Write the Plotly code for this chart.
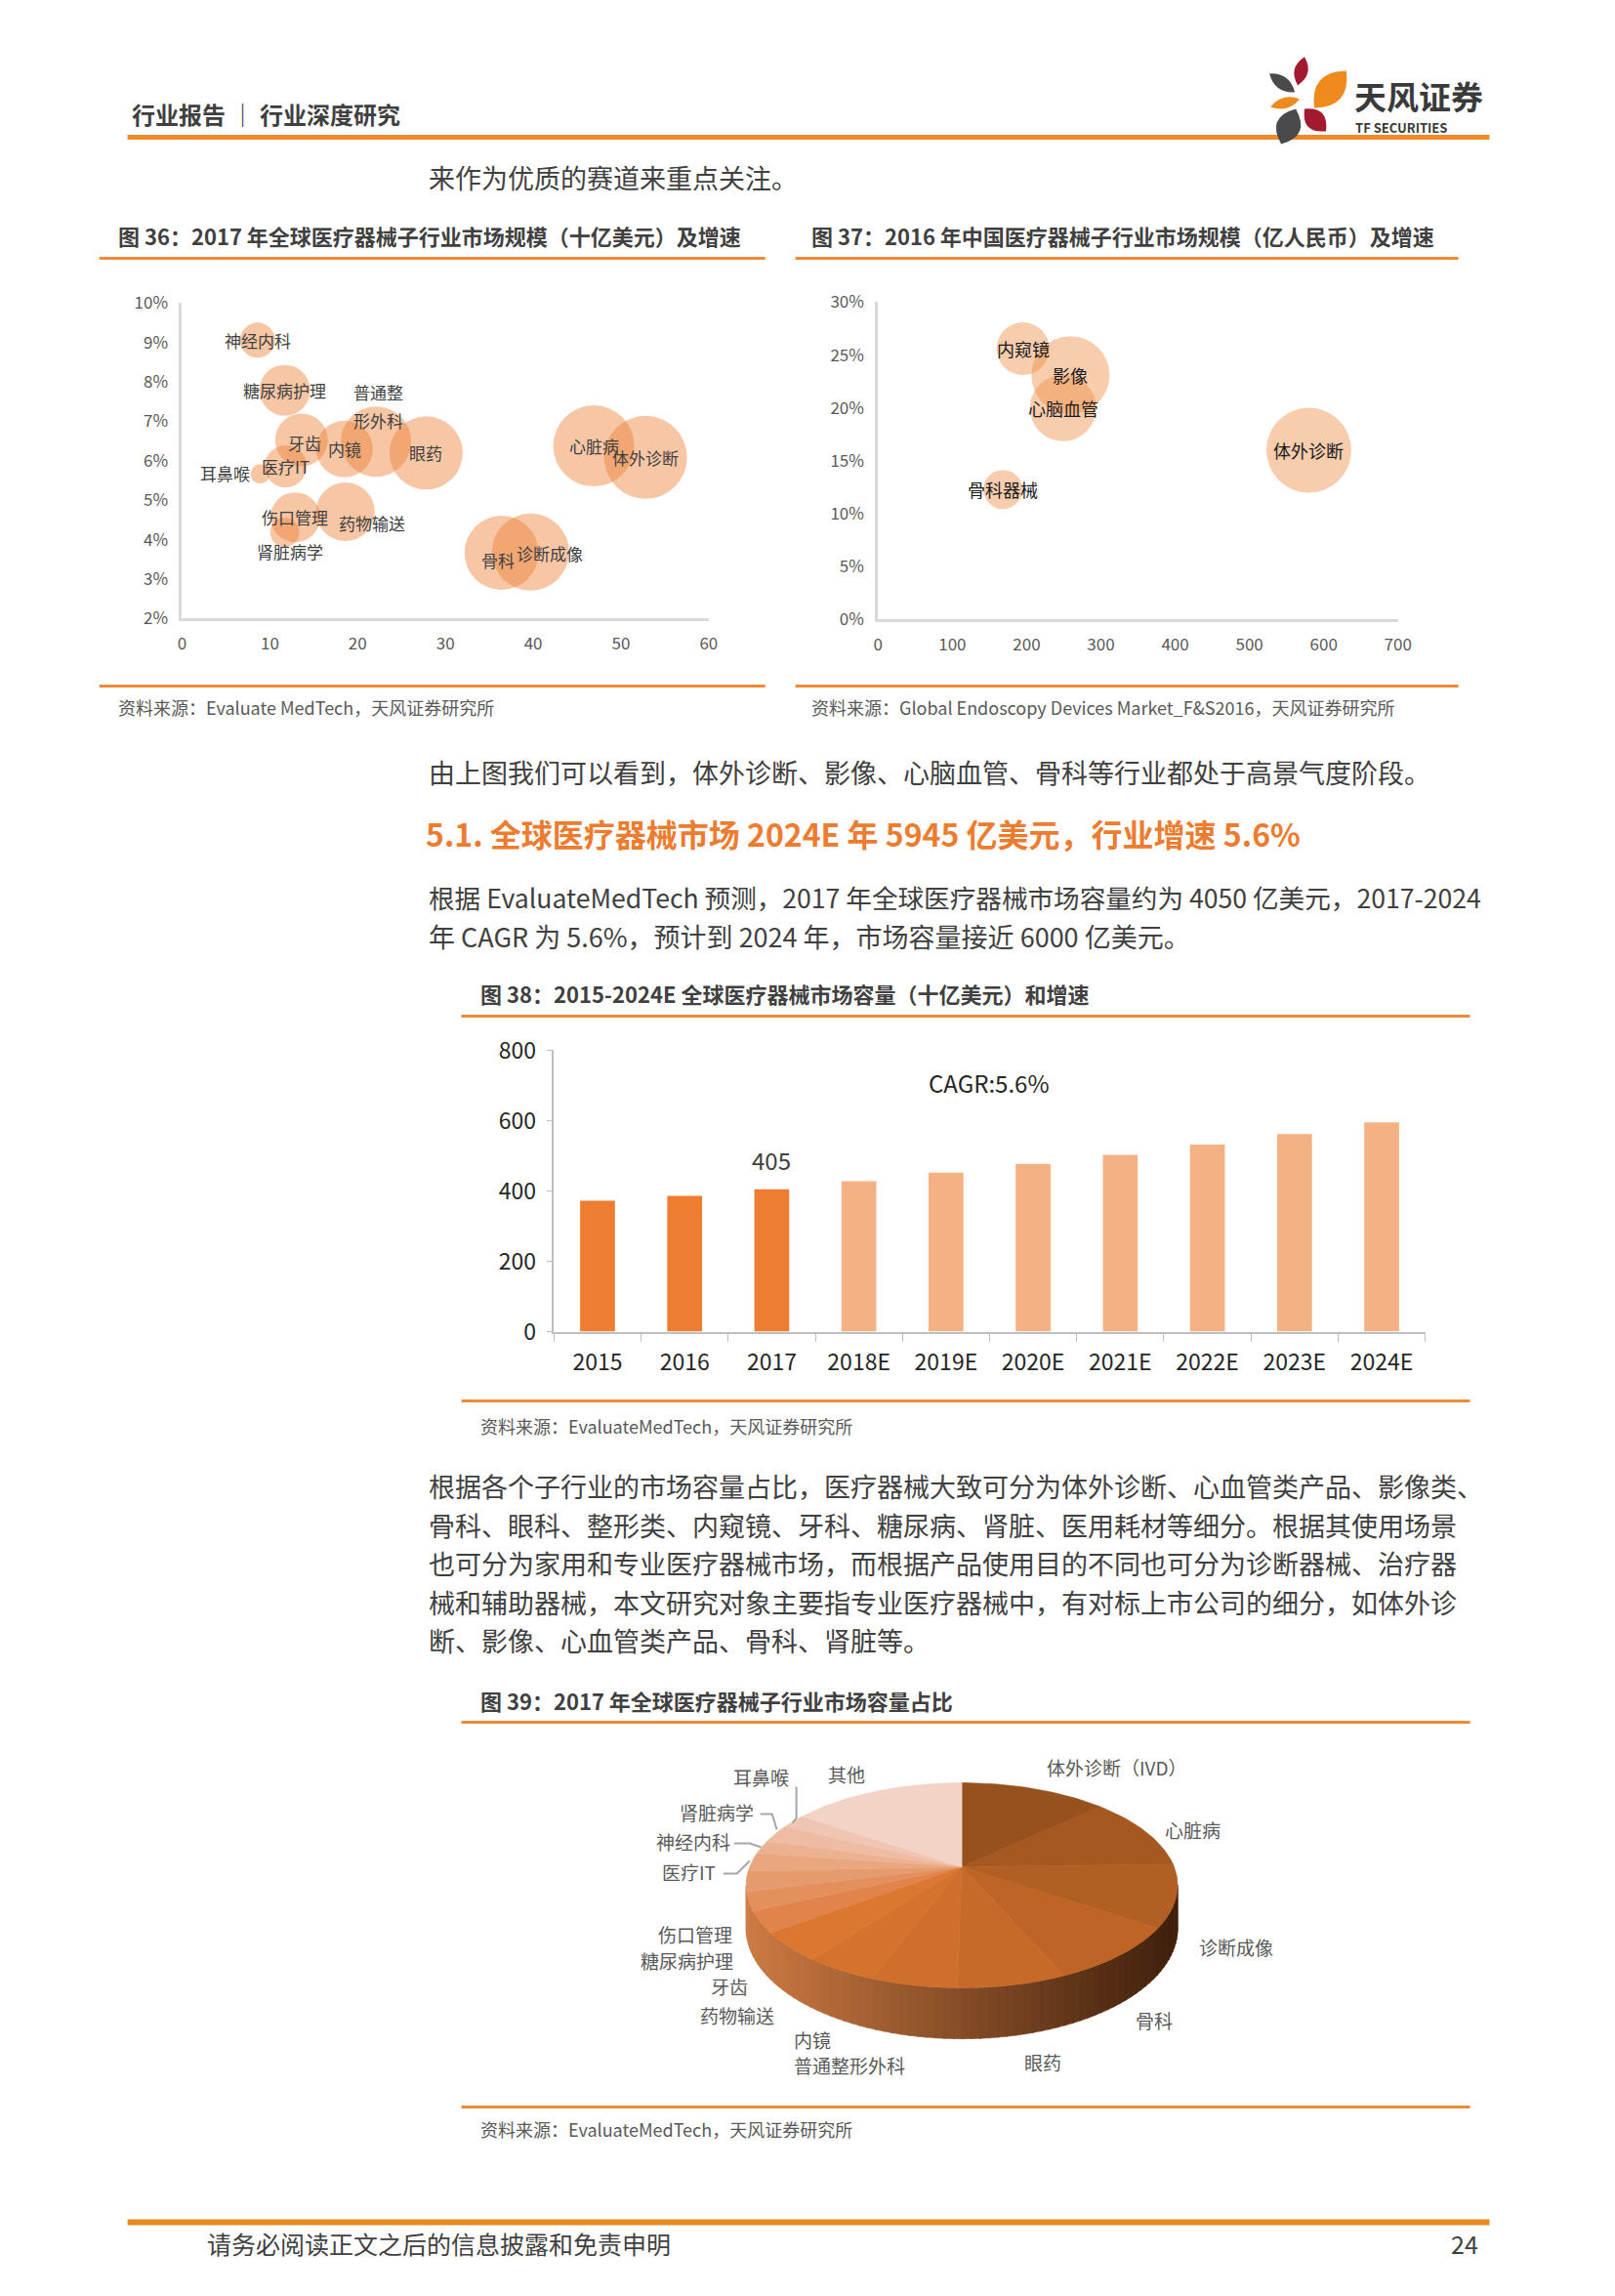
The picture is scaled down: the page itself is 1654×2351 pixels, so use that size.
import math
import plotly.graph_objects as go

W, H = 1654, 2351
FONT = "Noto Sans CJK SC, Noto Sans, sans-serif"

# ---------------- data ----------------
# 图36: 2017 global med-device sub-sectors (size $bn, growth %, bubble value)
seg36_names = ["神经内科", "糖尿病护理", "普通整形外科", "牙齿", "内镜", "眼药", "医疗IT", "耳鼻喉",
               "心脏病", "体外诊断", "伤口管理", "药物输送", "肾脏病学", "骨科", "诊断成像"]
seg36_size = [8.6, 11.7, 22.1, 13.6, 18.5, 27.8, 11.8, 8.9, 46.9, 52.8, 12.9, 18.6, 11.7, 36.4, 39.7]
seg36_growth = [9.06, 7.79, 6.49, 6.53, 6.30, 6.20, 5.86, 5.67, 6.38, 6.09, 4.57, 4.71, 4.19, 3.67, 3.69]
seg36_bubble = [36, 52, 72, 54, 58, 75, 43, 20, 83, 85, 51, 60, 30, 76, 79]

# 图37: 2016 China med-device sub-sectors (size 亿元, growth %, bubble value)
seg37_names = ["内窥镜", "影像", "心脑血管", "体外诊断", "骨科器械"]
seg37_size = [195, 259, 249, 580, 168]
seg37_growth = [25.6, 23.1, 20.0, 16.0, 12.3]
seg37_bubble = [54, 80, 68, 87, 40]

# 图38: global market ($bn)
years = ["2015", "2016", "2017", "2018E", "2019E", "2020E", "2021E", "2022E", "2023E", "2024E"]
market = [372, 386, 405, 428, 452, 477, 503, 532, 562, 595]
cagr_text = "CAGR:5.6%"

# 图39: 2017 share of sub-sectors
pie_names = ["体外诊断（IVD）", "心脏病", "诊断成像", "骨科", "眼药", "普通整形外科", "内镜", "药物输送",
             "牙齿", "糖尿病护理", "伤口管理", "医疗IT", "神经内科", "肾脏病学", "耳鼻喉", "其他"]
pie_values = [52.8, 46.9, 39.7, 36.4, 27.8, 22.1, 18.5, 18.6, 13.6, 11.7, 12.9, 11.8, 8.6, 11.7, 8.9, 63.0]

# ---------------- helpers ----------------
def cx(x):
    return 1.00858 * x - 13.1

def cy(y):
    return 1.01477 * y - 26.0

def fx(x):
    return cx(x) / W

def fy(y):
    return 1 - cy(y) / H

annotations = []
shapes = []

def txt(x, y, s, size, color="#404040", anchor="left", bold=False, ref=("paper", "paper"), xshift=0, yshift=0):
    if ref == ("paper", "paper"):
        xx, yy = fx(x), fy(y)
    else:
        xx, yy = x, y
    annotations.append(dict(x=xx, y=yy, xref=ref[0], yref=ref[1], text=f"<b>{s}</b>" if bold else s,
                            showarrow=False, xanchor=anchor, yanchor="middle", xshift=xshift, yshift=yshift,
                            borderpad=0, font=dict(family=FONT, size=size, color=color)))

def hline(x0, x1, y, color, width):
    shapes.append(dict(type="line", xref="paper", yref="paper", x0=fx(x0), x1=fx(x1), y0=fy(y), y1=fy(y),
                       line=dict(color=color, width=width)))

def polyline(pts, color, width):
    path = "M " + " L ".join(f"{fx(a):.5f},{fy(b):.5f}" for a, b in pts)
    shapes.append(dict(type="path", xref="paper", yref="paper", path=path, line=dict(color=color, width=width)))

def leaf(x1, y1, x2, y2, w, color):
    mx, my = (x1 + x2) / 2, (y1 + y2) / 2
    dx, dy = x2 - x1, y2 - y1
    L = math.hypot(dx, dy)
    nx, ny = -dy / L, dx / L
    c1 = (mx + nx * w, my + ny * w)
    c2 = (mx - nx * w, my - ny * w)
    p = lambda a, b: f"{fx(a):.5f},{fy(b):.5f}"
    path = f"M {p(x1,y1)} Q {p(*c1)} {p(x2,y2)} Q {p(*c2)} {p(x1,y1)} Z"
    shapes.append(dict(type="path", xref="paper", yref="paper", path=path, fillcolor=color, line=dict(width=0)))

ORANGE_LINE = "#EC8A36"

# ---------------- header ----------------
txt(134, 115, "行业报告 ｜ 行业深度研究", 24, "#3F3F3F", bold=True)
hline(131, 1530, 139, "#EF8A2A", 5)
leaf(1340, 57, 1333, 86, 14, "#A3192F")
leaf(1304, 74, 1330, 93, 13, "#4A4A4C")
leaf(1383, 71, 1350, 109, 28, "#EF8A1F")
leaf(1305, 108, 1335, 100, 11, "#EF8A1F")
leaf(1340, 110, 1362, 133, 20, "#A3192F")
leaf(1331, 110, 1316, 146, 25, "#4A4A4C")
txt(1390, 97, "天风证券", 33, "#3A3A3A", bold=True)
txt(1391, 129, "TF SECURITIES", 13, "#3A3A3A", bold=True)

txt(439, 180, "来作为优质的赛道来重点关注。", 27, "#404040")

# ---------------- figure 36 / 37 frames ----------------
txt(120, 240, "图 36：2017 年全球医疗器械子行业市场规模（十亿美元）及增速", 22, "#404040", bold=True)
txt(832, 240, "图 37：2016 年中国医疗器械子行业市场规模（亿人民币）及增速", 22, "#404040", bold=True)
hline(102, 786, 263, ORANGE_LINE, 3)
hline(817, 1498, 263, ORANGE_LINE, 3)
hline(102, 786, 701, ORANGE_LINE, 3)
hline(817, 1498, 701, ORANGE_LINE, 3)
txt(120, 723, "资料来源：Evaluate MedTech，天风证券研究所", 18, "#595959")
txt(832, 723, "资料来源：Global Endoscopy Devices Market_F&S2016，天风证券研究所", 18, "#595959")

traces = []
traces.append(go.Scatter(x=seg36_size, y=seg36_growth, mode="markers", xaxis="x", yaxis="y",
                         marker=dict(size=seg36_bubble, sizemode="diameter", color="rgba(237,125,49,0.62)",
                                     line=dict(width=0)), hoverinfo="skip", cliponaxis=False))
label36_shift = {"耳鼻喉": (-36, 1), "药物输送": (27, -11), "肾脏病学": (5, -19), "骨科": (-4, -7),
                 "诊断成像": (20, -1), "牙齿": (3, -3)}
for n, xv, yv in zip(seg36_names, seg36_size, seg36_growth):
    if n == "普通整形外科":
        txt(xv, yv, n[:3], 17, "#404040", anchor="center", ref=("x", "y"), xshift=2, yshift=51)
        txt(xv, yv, n[3:], 17, "#404040", anchor="center", ref=("x", "y"), xshift=2, yshift=22)
        continue
    sx, sy = label36_shift.get(n, (0, 0))
    txt(xv, yv, n, 17, "#404040", anchor="center", ref=("x", "y"), xshift=sx, yshift=sy)

traces.append(go.Scatter(x=seg37_size, y=seg37_growth, mode="markers", xaxis="x2", yaxis="y2",
                         marker=dict(size=seg37_bubble, sizemode="diameter", color="rgba(240,140,70,0.62)",
                                     line=dict(width=0)), hoverinfo="skip", cliponaxis=False))
for n, xv, yv in zip(seg37_names, seg37_size, seg37_growth):
    txt(xv, yv, n, 18, "#1A1A1A", anchor="center", ref=("x2", "y2"))

# ---------------- text block ----------------
txt(439, 789, "由上图我们可以看到，体外诊断、影像、心脑血管、骨科等行业都处于高景气度阶段。", 27, "#404040")
txt(436, 852, "5.1. 全球医疗器械市场 2024E 年 5945 亿美元，行业增速 5.6%", 32, "#EC7C30", bold=True)
txt(439, 917, "根据 EvaluateMedTech 预测，2017 年全球医疗器械市场容量约为 4050 亿美元，2017-2024", 26.6, "#404040")
txt(439, 957, "年 CAGR 为 5.6%，预计到 2024 年，市场容量接近 6000 亿美元。", 27, "#404040")

# ---------------- figure 38 ----------------
txt(492, 1016, "图 38：2015-2024E 全球医疗器械市场容量（十亿美元）和增速", 22, "#404040", bold=True)
hline(474, 1510, 1039, ORANGE_LINE, 3)
hline(474, 1510, 1433, ORANGE_LINE, 3)
txt(492, 1458, "资料来源：EvaluateMedTech，天风证券研究所", 18, "#595959")

idx = list(range(len(years)))
bar_colors = ["#F4B183" if y.endswith("E") else "#ED7D31" for y in years]
traces.append(go.Bar(x=idx, y=market, marker=dict(color=bar_colors, line=dict(width=0)), width=0.4,
                     xaxis="x3", yaxis="y3", hoverinfo="skip"))
i2017 = years.index("2017")
annotations.append(dict(x=i2017, y=market[i2017], xref="x3", yref="y3", text=str(market[i2017]),
                        showarrow=False, yanchor="middle", yshift=30,
                        font=dict(family=FONT, size=24, color="#404040")))
annotations.append(dict(x=(len(years) - 1) / 2, y=707, xref="x3", yref="y3", text=cagr_text, showarrow=False,
                        yanchor="middle", font=dict(family=FONT, size=24, color="#262626")))

# ---------------- paragraph ----------------
para = ["根据各个子行业的市场容量占比，医疗器械大致可分为体外诊断、心血管类产品、影像类、",
        "骨科、眼科、整形类、内窥镜、牙科、糖尿病、肾脏、医用耗材等细分。根据其使用场景",
        "也可分为家用和专业医疗器械市场，而根据产品使用目的不同也可分为诊断器械、治疗器",
        "械和辅助器械，本文研究对象主要指专业医疗器械中，有对标上市公司的细分，如体外诊",
        "断、影像、心血管类产品、骨科、肾脏等。"]
for i, line in enumerate(para):
    txt(439, 1520 + 39.5 * i, line, 27, "#404040")

# ---------------- figure 39 (3-D pie) ----------------
txt(492, 1739, "图 39：2017 年全球医疗器械子行业市场容量占比", 22, "#404040", bold=True)
hline(474, 1510, 1762, ORANGE_LINE, 3)
hline(474, 1510, 2156, ORANGE_LINE, 3)
txt(492, 2178, "资料来源：EvaluateMedTech，天风证券研究所", 18, "#595959")

PA, PB, PP, PH = 218.0, 101.6, 0.181, 42.6

def proj(tdeg, drop=0.0):
    t = math.radians(tdeg)
    d = 1 + PP * math.sin(t)
    return PA * math.cos(t) / d, (PB * math.sin(t) - drop) / d

def lerp(c1, c2, f):
    return "rgb(%d,%d,%d)" % tuple(round(a + (b - a) * f) for a, b in zip(c1, c2))

# side (visible front rim)
t_lo = 180 + math.degrees(math.asin(PP))
t_hi = 360 - math.degrees(math.asin(PP))
nstrip = 80
for k in range(nstrip):
    ta = t_lo + (t_hi - t_lo) * k / nstrip
    tb = t_lo + (t_hi - t_lo) * (k + 1) / nstrip + 0.3
    ts = [ta + (tb - ta) * j / 4 for j in range(5)]
    top = [proj(t) for t in ts]
    bot = [proj(t, PH) for t in reversed(ts)]
    pts = top + bot + [top[0]]
    xm = sum(p[0] for p in top) / len(top)
    col = lerp((204, 122, 66), (64, 32, 12), (xm + PA) / (2 * PA))
    traces.append(go.Scatter(x=[p[0] for p in pts], y=[p[1] for p in pts], mode="lines", fill="toself",
                             fillcolor=col, line=dict(color=col, width=0.6), xaxis="x4", yaxis="y4",
                             hoverinfo="skip"))

pie_colors = ["#96511F", "#A55820", "#B25F23", "#BD6426", "#C66A29", "#CE6F2C", "#D5732E", "#DC7732",
              "#E0844B", "#E3905D", "#E69B6E", "#E9A67F", "#ECB191", "#EEBCA2", "#F0C6B3", "#F2D3C6"]
total = sum(pie_values)
start = 90.0
for v, col in zip(pie_values, pie_colors):
    span = v / total * 360
    n = max(4, int(span / 1.5))
    ts = [start - span * j / n for j in range(n + 1)]
    pts = [(0, 0)] + [proj(t) for t in ts] + [(0, 0)]
    traces.append(go.Scatter(x=[p[0] for p in pts], y=[p[1] for p in pts], mode="lines", fill="toself",
                             fillcolor=col, line=dict(color=col, width=0.6), xaxis="x4", yaxis="y4",
                             hoverinfo="skip"))
    start -= span

pie_label_pos = {"体外诊断（IVD）": (1147, 1808, "center"), "心脏病": (1225, 1872, "center"),
                 "诊断成像": (1270, 1992, "center"), "骨科": (1186, 2067, "center"),
                 "眼药": (1071, 2110, "center"), "内镜": (814, 2087, "left"),
                 "普通整形外科": (814, 2113, "left"), "药物输送": (757, 2062, "center"),
                 "牙齿": (749, 2032, "center"), "糖尿病护理": (706, 2006, "center"),
                 "伤口管理": (714, 1979, "center"), "医疗IT": (708, 1915, "center"),
                 "神经内科": (712, 1884, "center"), "肾脏病学": (736, 1854, "center"),
                 "耳鼻喉": (782, 1818, "center"), "其他": (870, 1815, "center")}
for n in pie_names:
    x, y, a = pie_label_pos[n]
    txt(x, y, n, 19, "#595959", anchor=a)
GRAY = "#A6A6A6"
polyline([(818, 1828), (818, 1860), (814, 1865)], GRAY, 2)
polyline([(781, 1856), (793, 1856), (798, 1872)], GRAY, 2)
polyline([(754, 1886), (770, 1886), (782, 1890)], GRAY, 2)
polyline([(743, 1917), (757, 1917), (770, 1904)], GRAY, 2)

# ---------------- footer ----------------
hline(131, 1530, 2274, "#E8891E", 6)
txt(212, 2295, "请务必阅读正文之后的信息披露和免责申明", 25, "#404040")
txt(1520, 2295, "24", 25, "#404040", anchor="right")

# ---------------- layout ----------------
fig = go.Figure(traces)

tick_gray = dict(family=FONT, size=17, color="#595959")
bar_dom = [fx(569), fx(1464)]
fig.update_layout(
    width=W, height=H, margin=dict(l=0, r=0, t=0, b=0), paper_bgcolor="white", plot_bgcolor="rgba(0,0,0,0)",
    showlegend=False, hovermode=False, annotations=annotations, shapes=shapes,
    xaxis=dict(domain=[fx(187), fx(728)], range=[0, 60], dtick=10, anchor="y", showgrid=False, zeroline=False,
               showline=True, linecolor="#D9D9D9", linewidth=3, ticks="", tickfont=tick_gray, ticklabelstandoff=8),
    yaxis=dict(domain=[fy(632), fy(309)], range=[2, 10], dtick=1, ticksuffix="%", anchor="x", showgrid=False,
               zeroline=False, showline=True, linecolor="#D9D9D9", linewidth=3, ticks="", tickfont=tick_gray,
               ticklabelstandoff=8),
    xaxis2=dict(domain=[fx(902), fx(1436)], range=[0, 700], dtick=100, anchor="y2", showgrid=False,
                zeroline=False, showline=True, linecolor="#D9D9D9", linewidth=3, ticks="", tickfont=tick_gray,
                ticklabelstandoff=8),
    yaxis2=dict(domain=[fy(633), fy(308)], range=[0, 30], dtick=5, ticksuffix="%", anchor="x2", showgrid=False,
                zeroline=False, showline=True, linecolor="#D9D9D9", linewidth=3, ticks="", tickfont=tick_gray,
                ticklabelstandoff=8),
    xaxis3=dict(domain=bar_dom, range=[-0.5, len(years) - 0.5], anchor="y3", showgrid=False, zeroline=False,
                showline=True, linecolor="#BFBFBF", linewidth=1.5, ticks="", tickmode="array",
                tickvals=idx, ticktext=years, tickangle=0,
                tickfont=dict(family=FONT, size=23, color="#262626"), ticklabelstandoff=10,
                minor=dict(ticks="outside", tickmode="array",
                           tickvals=[i - 0.5 for i in range(len(years) + 1)],
                           ticklen=9, tickcolor="#BFBFBF", tickwidth=1.3, showgrid=False)),
    yaxis3=dict(domain=[fy(1362), fy(1074)], range=[0, 800], dtick=200, anchor="x3", showgrid=False,
                zeroline=False, showline=True, linecolor="#BFBFBF", linewidth=1.5, ticks="outside", ticklen=6,
                tickcolor="#BFBFBF", tickfont=dict(family=FONT, size=23, color="#262626"), ticklabelstandoff=6),
    xaxis4=dict(domain=[fx(600), fx(1400)], range=[-388, 412], anchor="y4", visible=False, fixedrange=True),
    yaxis4=dict(domain=[fy(2140), fy(1780)], range=[-230, 130], anchor="x4", visible=False, fixedrange=True),
)

fig.write_html("out.html")
